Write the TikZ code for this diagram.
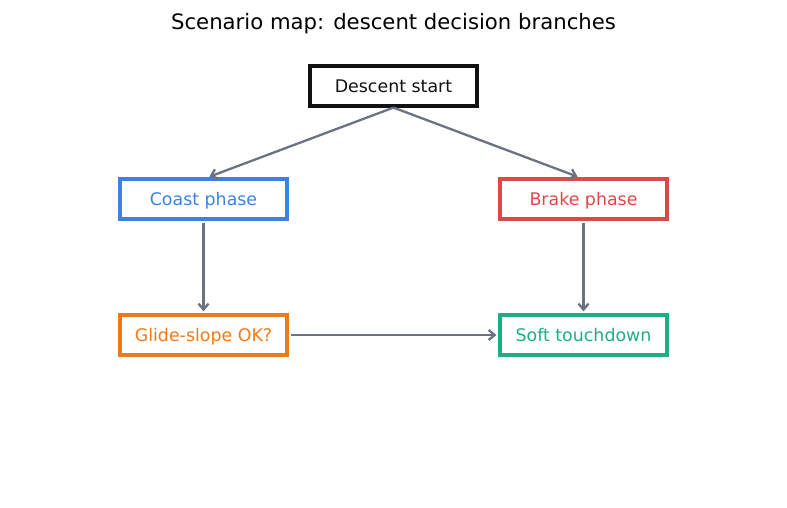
\documentclass[tikz,border=0pt]{standalone}
\usepackage{fontspec}
\setmainfont{DejaVu Sans}
\usepackage{tikz}
\usetikzlibrary{arrows.meta}
\definecolor{edgegray}{HTML}{6B7280}
\definecolor{startblack}{HTML}{111111}
\definecolor{coastblue}{HTML}{3B82E6}
\definecolor{brakered}{HTML}{E04848}
\definecolor{glideorange}{HTML}{F07A1A}
\definecolor{softgreen}{HTML}{1BB084}

\begin{document}
\begin{tikzpicture}[x=1pt, y=-1pt, >={Straight Barb[length=6pt,width=10pt]},
	box/.style={draw, line width=3.2pt, minimum width=167pt, minimum height=40pt,
		inner sep=0pt, text height=17pt, text depth=4pt, font=\fontsize{17.4}{21}\selectfont},
	flow/.style={->, draw=edgegray, line width=2.3pt, shorten >=2pt, shorten <=2pt}]
	\useasboundingbox (0,0) rectangle (787,508);
	% title
	\node (title) at (393.5,24) {\fontsize{21.2}{26}\selectfont Scenario map: descent decision branches};
	% boxes
	\node[box, draw=startblack, text=startblack] (start) at (393.5,86) {Descent start};
	\node[box, draw=coastblue, text=coastblue] (coast) at (203.5,199) {Coast phase};
	\node[box, draw=brakered, text=brakered] (brake) at (583.5,199) {Brake phase};
	\node[box, draw=glideorange, text=glideorange] (glide) at (203.5,335) {Glide-slope OK?};
	\node[box, draw=softgreen, text=softgreen] (soft) at (583.5,335) {Soft touchdown};
	% connectors
	\draw[flow, shorten <=0pt] (start.south) -- ([xshift=4pt]coast.north);
	\draw[flow, shorten <=0pt] (start.south) -- ([xshift=-4pt]brake.north);
	\draw[flow] (coast) -- (glide);
	\draw[flow] (brake) -- (soft);
	\draw[flow] (glide) -- (soft);
\end{tikzpicture}
\end{document}
